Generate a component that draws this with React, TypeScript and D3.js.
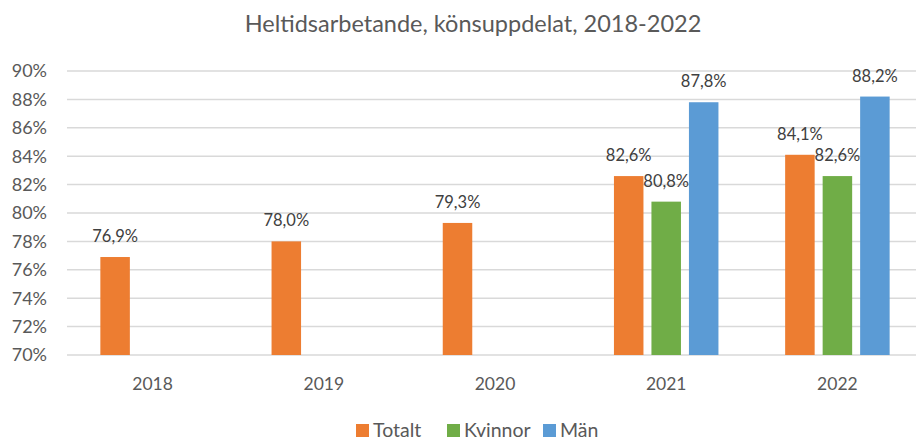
import * as React from 'react'
import * as d3 from 'd3'

const years = ['2018', '2019', '2020', '2021', '2022']
const series = ['Totalt', 'Kvinnor', 'Män']
const totalt = [0.769, 0.78, 0.793, 0.826, 0.841]
const kvinnor = [null, null, null, 0.808, 0.826]
const man = [null, null, null, 0.878, 0.882]
const yTicks = [0.7, 0.72, 0.74, 0.76, 0.78, 0.8, 0.82, 0.84, 0.86, 0.88, 0.9]

const colors = ['#ED7D31', '#70AD47', '#5B9BD5']
const values: (number | null)[][] = [totalt, kvinnor, man]

const W = 916
const H = 441
const left = 67
const right = 923
const top = 71
const bottom = 355
const font = 'Lato, "Open Sans", sans-serif'

const pct = d3.format('.0%')
const label = (v: number) => (v * 100).toFixed(1).replace('.', ',') + '%'

export default function App() {
  const x0 = d3.scaleBand().domain(years).range([left, right])
  const groupW = 104.5
  const x1 = d3.scaleBand().domain(series).range([0, groupW]).paddingInner(0.213)
  const y = d3.scaleLinear().domain([0.7, 0.9]).range([bottom, top])
  const offset = (x0.bandwidth() - groupW) / 2

  const legendX = [356, 447, 543]

  return (
    <svg
      width={W}
      height={H}
      style={{ position: 'absolute', left: 0, top: 0, background: '#fff' }}
      fontFamily={font}
    >
      <text x={473} y={32} textAnchor="middle" fontSize={23.5} fill="#595959">
        Heltidsarbetande, könsuppdelat, 2018-2022
      </text>

      <g>
        {yTicks.map((t) => (
          <g key={t}>
            <line x1={left} x2={right} y1={y(t)} y2={y(t)} stroke="#d9d9d9" strokeWidth={1.5} />
            <text x={47} y={y(t)} dy="0.36em" textAnchor="end" fontSize={18} fill="#595959">
              {pct(t)}
            </text>
          </g>
        ))}
      </g>

      <g>
        {years.map((yr, i) => (
          <g key={yr} transform={`translate(${x0(yr)! + offset},0)`}>
            {series.map((s, j) => {
              const v = values[j][i]
              if (v == null) return null
              const bx = x1(s)!
              const bw = x1.bandwidth()
              return (
                <g key={s}>
                  <rect x={bx} y={y(v)} width={bw} height={bottom - y(v)} fill={colors[j]} />
                  <text
                    x={bx + bw / 2}
                    y={y(v) - 15}
                    textAnchor="middle"
                    fontSize={16.5}
                    fill="#404040"
                  >
                    {label(v)}
                  </text>
                </g>
              )
            })}
          </g>
        ))}
      </g>

      <g>
        {years.map((yr) => (
          <text
            key={yr}
            x={x0(yr)! + x0.bandwidth() / 2}
            y={390}
            textAnchor="middle"
            fontSize={17.5}
            fill="#595959"
          >
            {yr}
          </text>
        ))}
      </g>

      <g>
        {series.map((s, j) => (
          <g key={s} transform={`translate(${legendX[j]},0)`}>
            <rect x={0} y={424} width={13} height={13} fill={colors[j]} />
            <text x={17} y={437} fontSize={19.5} fill="#595959">
              {s}
            </text>
          </g>
        ))}
      </g>
    </svg>
  )
}
